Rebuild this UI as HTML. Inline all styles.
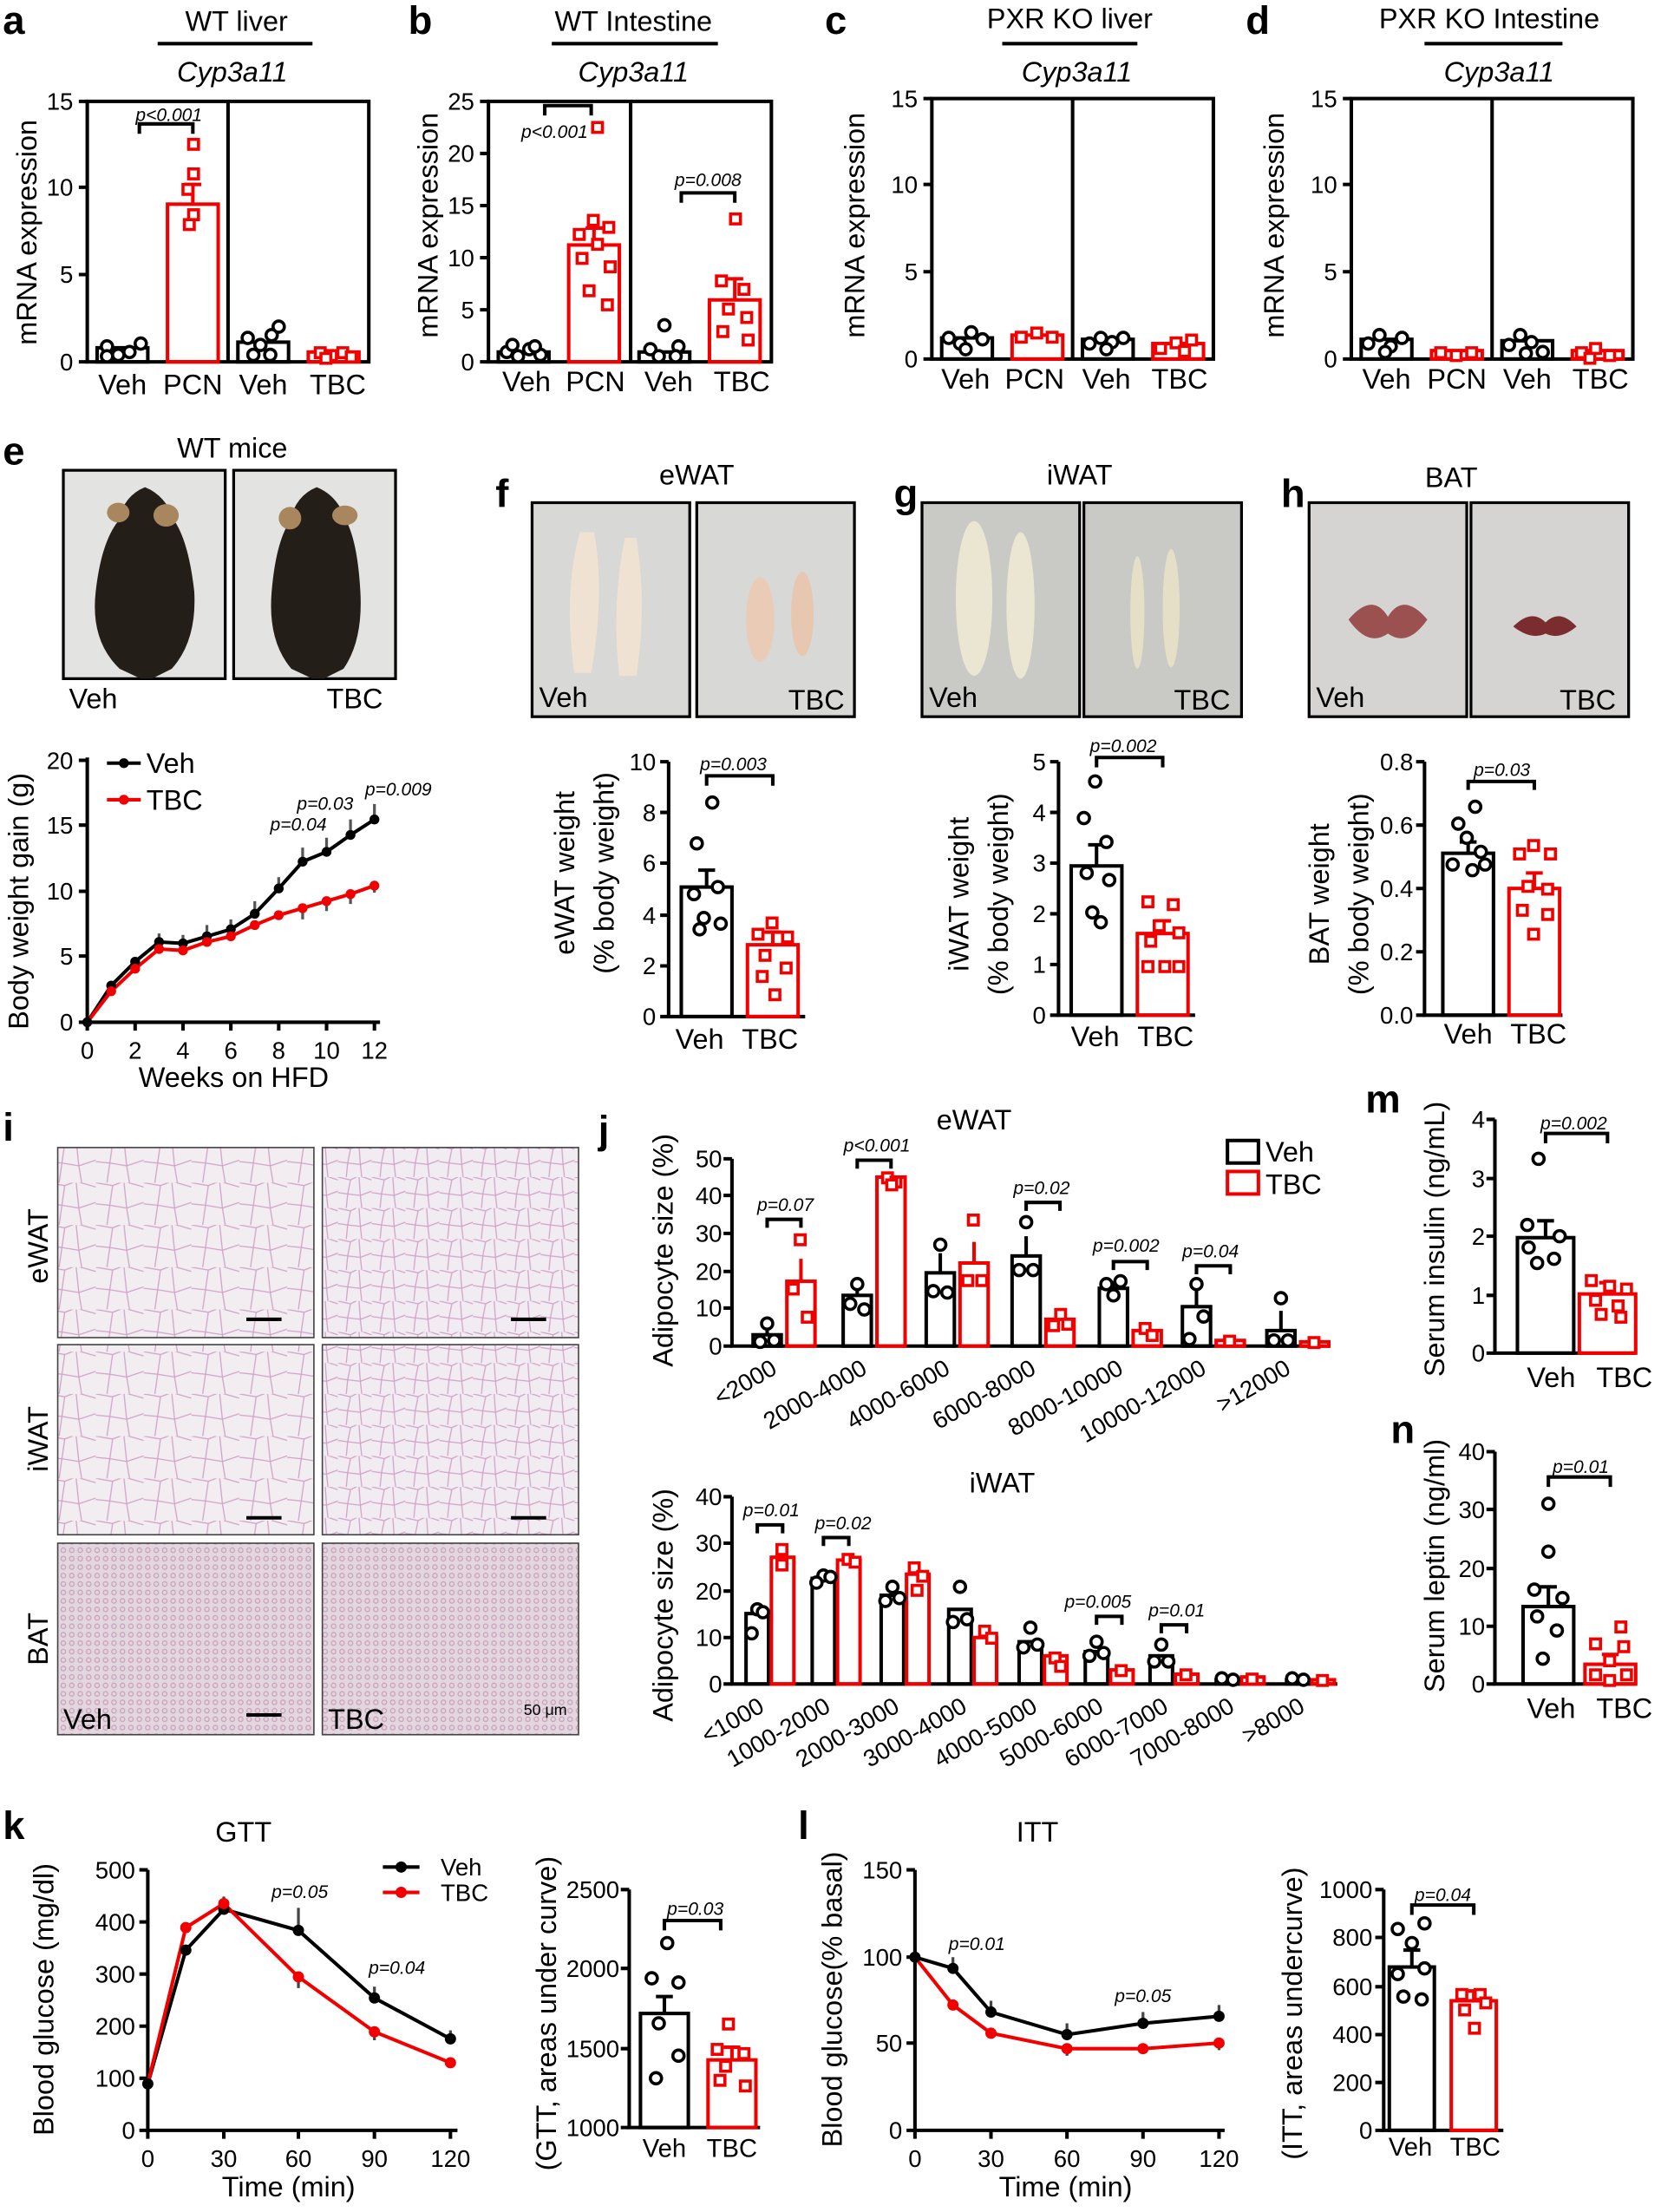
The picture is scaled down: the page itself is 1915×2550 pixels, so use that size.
<!DOCTYPE html>
<html><head><meta charset="utf-8"><style>
html,body{margin:0;padding:0;background:#fff}
svg{display:block}
text{font-family:"Liberation Sans",Arial,sans-serif;fill:#000}
.t{font-size:17px}
.l{font-size:20px}
.p{font-size:13px;font-style:italic}
.L{font-size:28px;font-weight:bold}
.ax{stroke:#000;stroke-width:2.5;fill:none}
.bk{stroke:#000;stroke-width:2.5;fill:none}
.rd{stroke:#f20000;stroke-width:2.5;fill:none}
.oc{stroke:#000;stroke-width:2.2;fill:#fff}
.or{stroke:#f20000;stroke-width:2.2;fill:#fff}
</style></head><body>
<svg width="1915" height="2550" viewBox="0 0 1180 1571" preserveAspectRatio="none" xmlns="http://www.w3.org/2000/svg">
<defs>
<pattern id="ad" width="34" height="30" patternUnits="userSpaceOnUse">
<rect width="34" height="30" fill="#f1edf1"/>
<path d="M0 0 L12 2 L20 -1 L34 3 M12 2 L10 16 L0 15 M10 16 L22 18 L20 -1 M22 18 L34 14 M10 16 L8 30 M22 18 L24 30" stroke="#d2a3c8" stroke-width="0.8" fill="none"/>
</pattern>
<pattern id="ad2" width="24" height="22" patternUnits="userSpaceOnUse">
<rect width="24" height="22" fill="#f1ecf1"/>
<path d="M0 0 L9 2 L15 -1 L24 2 M9 2 L7 12 L0 11 M7 12 L16 13 L15 -1 M16 13 L24 10 M7 12 L6 22 M16 13 L17 22" stroke="#d2a3c8" stroke-width="0.8" fill="none"/>
</pattern>
<pattern id="bat" width="6" height="6" patternUnits="userSpaceOnUse">
<rect width="6" height="6" fill="#e3d6de"/>
<circle cx="3" cy="3" r="1.6" fill="none" stroke="#c7a2bb" stroke-width="0.8"/>
</pattern>
</defs>

<!-- ============ a ============ -->
<text x="2" y="24" class="L">a</text>
<text x="168" y="22" class="l" text-anchor="middle">WT liver</text>
<line x1="112" y1="31" x2="222" y2="31" class="ax" stroke-width="2"/>
<text x="165" y="58" class="l" text-anchor="middle" font-style="italic">Cyp3a11</text>
<text transform="translate(26,165) rotate(-90)" class="l" text-anchor="middle">mRNA expression</text>
<g class="t" text-anchor="end"><text x="52" y="263">0</text><text x="52" y="201">5</text><text x="52" y="139">10</text><text x="52" y="78">15</text></g>
<path d="M56 257H62M56 195H62M56 133H62M56 72H62" class="ax"/>
<rect x="62" y="72" width="200" height="185" class="ax"/>
<line x1="162" y1="72" x2="162" y2="257" class="ax"/>
<rect x="69" y="247" width="36" height="10" class="bk"/>
<rect x="119" y="145" width="36" height="112" class="rd"/>
<path d="M137 145V131M131 131H143" class="rd"/>
<rect x="169" y="243" width="36" height="14" class="bk"/>
<rect x="219" y="250" width="36" height="7" class="rd"/>
<g class="oc"><circle cx="76" cy="246" r="4"/><circle cx="84" cy="252" r="4"/><circle cx="92" cy="250" r="4"/><circle cx="100" cy="244" r="4"/><circle cx="76" cy="253" r="4"/>
<circle cx="176" cy="240" r="4"/><circle cx="185" cy="245" r="4"/><circle cx="193" cy="238" r="4"/><circle cx="198" cy="232" r="4"/><circle cx="180" cy="252" r="4"/><circle cx="192" cy="252" r="4"/></g>
<g class="or"><rect x="134" y="99" width="7" height="7"/><rect x="134" y="120" width="7" height="7"/><rect x="130" y="131" width="7" height="7"/><rect x="134" y="149" width="7" height="7"/><rect x="131" y="156" width="7" height="7"/>
<rect x="224" y="247" width="7" height="7"/><rect x="232" y="249" width="7" height="7"/><rect x="240" y="247" width="7" height="7"/><rect x="246" y="250" width="7" height="7"/><rect x="228" y="251" width="7" height="7"/></g>
<text x="120" y="86" class="p" text-anchor="middle">p&lt;0.001</text>
<path d="M99 95V88H137V95" class="ax" stroke-width="1.5"/>
<g class="l" text-anchor="middle"><text x="87" y="280">Veh</text><text x="137" y="280">PCN</text><text x="187" y="280">Veh</text><text x="240" y="280">TBC</text></g>

<!-- ============ b ============ -->
<text x="290" y="24" class="L">b</text>
<text x="450" y="22" class="l" text-anchor="middle">WT Intestine</text>
<line x1="392" y1="31" x2="510" y2="31" class="ax" stroke-width="2"/>
<text x="450" y="58" class="l" text-anchor="middle" font-style="italic">Cyp3a11</text>
<text transform="translate(311,160) rotate(-90)" class="l" text-anchor="middle">mRNA expression</text>
<g class="t" text-anchor="end"><text x="337" y="263">0</text><text x="337" y="226">5</text><text x="337" y="189">10</text><text x="337" y="152">15</text><text x="337" y="115">20</text><text x="337" y="78">25</text></g>
<path d="M341 257H347M341 220H347M341 183H347M341 146H347M341 109H347M341 72H347" class="ax"/>
<rect x="347" y="72" width="201" height="185" class="ax"/>
<line x1="448" y1="72" x2="448" y2="257" class="ax"/>
<rect x="354" y="250" width="36" height="7" class="bk"/>
<rect x="404" y="174" width="36" height="83" class="rd"/>
<path d="M422 174V162M416 162H428" class="rd"/>
<rect x="454" y="250" width="36" height="7" class="bk"/>
<rect x="504" y="213" width="36" height="44" class="rd"/>
<path d="M522 213V198M516 198H528" class="rd"/>
<g class="oc"><circle cx="360" cy="250" r="4"/><circle cx="368" cy="253" r="4"/><circle cx="376" cy="248" r="4"/><circle cx="384" cy="252" r="4"/><circle cx="364" cy="245" r="4"/><circle cx="380" cy="246" r="4"/>
<circle cx="472" cy="231" r="4"/><circle cx="462" cy="248" r="4"/><circle cx="482" cy="246" r="4"/><circle cx="468" cy="253" r="4"/><circle cx="480" cy="253" r="4"/></g>
<g class="or"><rect x="421" y="87" width="7" height="7"/><rect x="418" y="153" width="7" height="7"/><rect x="429" y="158" width="7" height="7"/><rect x="408" y="163" width="7" height="7"/><rect x="421" y="170" width="7" height="7"/><rect x="410" y="180" width="7" height="7"/><rect x="430" y="186" width="7" height="7"/><rect x="415" y="203" width="7" height="7"/><rect x="428" y="213" width="7" height="7"/>
<rect x="519" y="152" width="7" height="7"/><rect x="509" y="196" width="7" height="7"/><rect x="525" y="202" width="7" height="7"/><rect x="514" y="216" width="7" height="7"/><rect x="527" y="222" width="7" height="7"/><rect x="510" y="232" width="7" height="7"/><rect x="528" y="238" width="7" height="7"/></g>
<text x="394" y="98" class="p" text-anchor="middle">p&lt;0.001</text>
<path d="M387 82V75H420V82" class="ax" stroke-width="1.5"/>
<text x="503" y="132" class="p" text-anchor="middle">p=0.008</text>
<path d="M484 144V137H522V144" class="ax" stroke-width="1.5"/>
<g class="l" text-anchor="middle"><text x="374" y="278">Veh</text><text x="423" y="278">PCN</text><text x="475" y="278">Veh</text><text x="527" y="278">TBC</text></g>

<!-- ============ c ============ -->
<text x="586" y="24" class="L">c</text>
<text x="760" y="20" class="l" text-anchor="middle">PXR KO liver</text>
<line x1="712" y1="31" x2="808" y2="31" class="ax" stroke-width="2"/>
<text x="765" y="58" class="l" text-anchor="middle" font-style="italic">Cyp3a11</text>
<text transform="translate(614,160) rotate(-90)" class="l" text-anchor="middle">mRNA expression</text>
<g class="t" text-anchor="end"><text x="652" y="261">0</text><text x="652" y="199">5</text><text x="652" y="137">10</text><text x="652" y="76">15</text></g>
<path d="M656 255H662M656 193H662M656 131H662M656 70H662" class="ax"/>
<rect x="662" y="70" width="200" height="185" class="ax"/>
<line x1="762" y1="70" x2="762" y2="255" class="ax"/>
<rect x="669" y="240" width="36" height="15" class="bk"/>
<rect x="719" y="238" width="36" height="17" class="rd"/>
<rect x="769" y="241" width="36" height="14" class="bk"/>
<rect x="819" y="244" width="36" height="11" class="rd"/>
<g class="oc"><circle cx="674" cy="240" r="4"/><circle cx="682" cy="244" r="4"/><circle cx="690" cy="236" r="4"/><circle cx="698" cy="241" r="4"/><circle cx="686" cy="248" r="4"/>
<circle cx="774" cy="244" r="4"/><circle cx="782" cy="240" r="4"/><circle cx="790" cy="243" r="4"/><circle cx="798" cy="240" r="4"/><circle cx="786" cy="248" r="4"/></g>
<g class="or"><rect x="722" y="236" width="7" height="7"/><rect x="733" y="233" width="7" height="7"/><rect x="744" y="236" width="7" height="7"/>
<rect x="821" y="244" width="7" height="7"/><rect x="832" y="240" width="7" height="7"/><rect x="843" y="238" width="7" height="7"/><rect x="838" y="246" width="7" height="7"/></g>
<g class="l" text-anchor="middle"><text x="686" y="276">Veh</text><text x="735" y="276">PCN</text><text x="786" y="276">Veh</text><text x="838" y="276">TBC</text></g>

<!-- ============ d ============ -->
<text x="885" y="24" class="L">d</text>
<text x="1058" y="20" class="l" text-anchor="middle">PXR KO Intestine</text>
<line x1="1012" y1="31" x2="1110" y2="31" class="ax" stroke-width="2"/>
<text x="1065" y="58" class="l" text-anchor="middle" font-style="italic">Cyp3a11</text>
<text transform="translate(912,160) rotate(-90)" class="l" text-anchor="middle">mRNA expression</text>
<g class="t" text-anchor="end"><text x="950" y="261">0</text><text x="950" y="199">5</text><text x="950" y="137">10</text><text x="950" y="76">15</text></g>
<path d="M954 255H960M954 193H960M954 131H960M954 70H960" class="ax"/>
<rect x="960" y="70" width="200" height="185" class="ax"/>
<line x1="1060" y1="70" x2="1060" y2="255" class="ax"/>
<rect x="967" y="241" width="36" height="14" class="bk"/>
<rect x="1017" y="249" width="36" height="6" class="rd"/>
<rect x="1067" y="242" width="36" height="13" class="bk"/>
<rect x="1117" y="249" width="36" height="6" class="rd"/>
<g class="oc"><circle cx="972" cy="244" r="4"/><circle cx="980" cy="238" r="4"/><circle cx="988" cy="246" r="4"/><circle cx="996" cy="240" r="4"/><circle cx="984" cy="250" r="4"/>
<circle cx="1072" cy="245" r="4"/><circle cx="1080" cy="238" r="4"/><circle cx="1088" cy="243" r="4"/><circle cx="1096" cy="250" r="4"/><circle cx="1084" cy="251" r="4"/></g>
<g class="or"><rect x="1020" y="247" width="7" height="7"/><rect x="1031" y="249" width="7" height="7"/><rect x="1042" y="247" width="7" height="7"/>
<rect x="1120" y="247" width="7" height="7"/><rect x="1130" y="244" width="7" height="7"/><rect x="1140" y="249" width="7" height="7"/><rect x="1126" y="251" width="7" height="7"/></g>
<g class="l" text-anchor="middle"><text x="985" y="276">Veh</text><text x="1035" y="276">PCN</text><text x="1085" y="276">Veh</text><text x="1137" y="276">TBC</text></g>

<!-- ============ e ============ -->
<text x="2" y="330" class="L">e</text>
<text x="165" y="325" class="l" text-anchor="middle">WT mice</text>
<rect x="45" y="334" width="115" height="148" fill="#e3e3e1" stroke="#000" stroke-width="2"/>
<rect x="166" y="334" width="115" height="148" fill="#e3e3e1" stroke="#000" stroke-width="2"/>
<path d="M103 346 Q88 352 84 370 Q72 385 68 420 Q64 455 85 475 L100 482 L108 482 L122 475 Q140 455 138 420 Q134 385 124 370 Q118 352 103 346Z" fill="#241e19"/>
<ellipse cx="84" cy="364" rx="8" ry="7" fill="#a8875f"/><ellipse cx="118" cy="366" rx="9" ry="8" fill="#a8875f"/>
<path d="M225 346 Q210 352 206 370 Q196 385 193 420 Q190 455 207 475 L222 482 L230 482 L244 475 Q258 455 256 420 Q254 385 246 370 Q240 352 225 346Z" fill="#241e19"/>
<ellipse cx="206" cy="368" rx="8" ry="8" fill="#a8875f"/><ellipse cx="245" cy="366" rx="9" ry="7" fill="#a8875f"/>
<text x="49" y="503" class="l" fill="#000">Veh</text><text x="232" y="503" class="l">TBC</text>
<g>
<text transform="translate(20,640) rotate(-90)" class="l" text-anchor="middle">Body weight gain (g)</text>
<g class="t" text-anchor="end"><text x="52" y="732">0</text><text x="52" y="685">5</text><text x="52" y="639">10</text><text x="52" y="592">15</text><text x="52" y="546">20</text></g>
<path d="M56 726H62M56 679H62M56 633H62M56 586H62M56 540H62" class="ax"/>
<path d="M62 538V726H270" class="ax"/>
<path d="M62 726v6M96 726v6M130 726v6M164 726v6M198 726v6M232 726v6M266 726v6" class="ax"/>
<g class="t" text-anchor="middle"><text x="62" y="752">0</text><text x="96" y="752">2</text><text x="130" y="752">4</text><text x="164" y="752">6</text><text x="198" y="752">8</text><text x="232" y="752">10</text><text x="266" y="752">12</text></g>
<text x="166" y="772" class="l" text-anchor="middle">Weeks on HFD</text>
<polyline points="62,726 79,700 96,683 113,669 130,670 147,665 164,660 181,649 198,631 215,612 232,605 249,593 266,582" fill="none" stroke="#000" stroke-width="2.5"/>
<polyline points="62,726 79,704 96,688 113,674 130,675 147,669 164,665 181,657 198,650 215,645 232,640 249,635 266,629" fill="none" stroke="#f20000" stroke-width="2.5"/>
<path d="M113 669v-6M130 670v-6M147 665v-8M164 660v-7M181 649v-9M198 631v-8M215 612v-10M232 605v-10M249 593v-11M266 582v-11M215 645v8M232 640v7M249 635v7M266 629v5" stroke="#555" stroke-width="2"/>
<g fill="#000"><circle cx="62" cy="726" r="3.5"/><circle cx="79" cy="700" r="3.5"/><circle cx="96" cy="683" r="3.5"/><circle cx="113" cy="669" r="3.5"/><circle cx="130" cy="670" r="3.5"/><circle cx="147" cy="665" r="3.5"/><circle cx="164" cy="660" r="3.5"/><circle cx="181" cy="649" r="3.5"/><circle cx="198" cy="631" r="3.5"/><circle cx="215" cy="612" r="3.5"/><circle cx="232" cy="605" r="3.5"/><circle cx="249" cy="593" r="3.5"/><circle cx="266" cy="582" r="3.5"/></g>
<g fill="#f20000"><circle cx="79" cy="704" r="3.5"/><circle cx="96" cy="688" r="3.5"/><circle cx="113" cy="674" r="3.5"/><circle cx="130" cy="675" r="3.5"/><circle cx="147" cy="669" r="3.5"/><circle cx="164" cy="665" r="3.5"/><circle cx="181" cy="657" r="3.5"/><circle cx="198" cy="650" r="3.5"/><circle cx="215" cy="645" r="3.5"/><circle cx="232" cy="640" r="3.5"/><circle cx="249" cy="635" r="3.5"/><circle cx="266" cy="629" r="3.5"/></g>
<line x1="76" y1="542" x2="100" y2="542" stroke="#000" stroke-width="2.5"/><circle cx="88" cy="542" r="3.5"/>
<text x="104" y="549" class="l">Veh</text>
<line x1="76" y1="568" x2="100" y2="568" stroke="#f20000" stroke-width="2.5"/><circle cx="88" cy="568" r="3.5" fill="#f20000"/>
<text x="104" y="575" class="l">TBC</text>
<text x="212" y="590" class="p" text-anchor="middle">p=0.04</text>
<text x="231" y="575" class="p" text-anchor="middle">p=0.03</text>
<text x="283" y="565" class="p" text-anchor="middle">p=0.009</text>
</g>

<!-- ============ f g h photos ============ -->
<text x="352" y="360" class="L">f</text>
<text x="495" y="344" class="l" text-anchor="middle">eWAT</text>
<rect x="378" y="357" width="112" height="152" fill="#d8d8d6" stroke="#000" stroke-width="2"/>
<rect x="495" y="357" width="112" height="152" fill="#d8d8d6" stroke="#000" stroke-width="2"/>
<path d="M412 378 Q400 420 408 478 L420 478 Q430 420 422 378Z" fill="#efe2d2"/><path d="M444 382 Q434 430 440 480 L452 480 Q460 430 452 382Z" fill="#efe2d2"/>
<ellipse cx="540" cy="440" rx="10" ry="30" fill="#e9cbb6"/><ellipse cx="570" cy="436" rx="8" ry="30" fill="#e8c7b0"/>
<text x="383" y="502" class="l">Veh</text><text x="560" y="504" class="l">TBC</text>

<text x="635" y="360" class="L">g</text>
<text x="767" y="344" class="l" text-anchor="middle">iWAT</text>
<rect x="655" y="357" width="112" height="152" fill="#c9c9c5" stroke="#000" stroke-width="2"/>
<rect x="770" y="357" width="112" height="152" fill="#c9c9c5" stroke="#000" stroke-width="2"/>
<ellipse cx="692" cy="425" rx="13" ry="55" fill="#ebe6d2"/><ellipse cx="725" cy="430" rx="10" ry="52" fill="#ebe6d2"/>
<ellipse cx="808" cy="435" rx="5" ry="40" fill="#e6dfc8"/><ellipse cx="832" cy="432" rx="6" ry="42" fill="#e6dfc8"/>
<text x="660" y="502" class="l">Veh</text><text x="834" y="504" class="l">TBC</text>

<text x="910" y="360" class="L">h</text>
<text x="1031" y="346" class="l" text-anchor="middle">BAT</text>
<rect x="930" y="357" width="112" height="152" fill="#d5d4d2" stroke="#000" stroke-width="2"/>
<rect x="1045" y="357" width="112" height="152" fill="#d5d4d2" stroke="#000" stroke-width="2"/>
<path d="M958 440 Q975 420 986 438 Q997 420 1014 440 Q1000 460 986 450 Q972 460 958 440Z" fill="#9a5150"/>
<path d="M1075 445 Q1088 432 1098 442 Q1108 432 1120 445 Q1108 455 1098 450 Q1088 455 1075 445Z" fill="#7b2c2f"/>
<text x="935" y="502" class="l">Veh</text><text x="1108" y="504" class="l">TBC</text>

<!-- f chart -->
<text transform="translate(408,620) rotate(-90)" class="l" text-anchor="middle">eWAT weight</text>
<text transform="translate(436,620) rotate(-90)" class="l" text-anchor="middle">(% body weight)</text>
<g class="t" text-anchor="end"><text x="466" y="728">0</text><text x="466" y="692">2</text><text x="466" y="656">4</text><text x="466" y="619">6</text><text x="466" y="583">8</text><text x="466" y="547">10</text></g>
<path d="M469 722H475M469 686H475M469 650H475M469 613H475M469 577H475M469 541H475" class="ax"/>
<path d="M475 541V722H572" class="ax"/>
<rect x="484" y="630" width="36" height="92" class="bk"/><path d="M502 630V618M496 618H508" class="bk"/>
<rect x="531" y="671" width="36" height="51" class="rd"/><path d="M549 671V662M543 662H555" class="rd"/>
<g class="oc"><circle cx="506" cy="570" r="4"/><circle cx="495" cy="599" r="4"/><circle cx="510" cy="630" r="4"/><circle cx="493" cy="635" r="4"/><circle cx="500" cy="652" r="4"/><circle cx="512" cy="656" r="4"/><circle cx="497" cy="660" r="4"/></g>
<g class="or"><rect x="545" y="652" width="7" height="7"/><rect x="535" y="660" width="7" height="7"/><rect x="556" y="662" width="7" height="7"/><rect x="540" y="675" width="7" height="7"/><rect x="555" y="684" width="7" height="7"/><rect x="538" y="690" width="7" height="7"/><rect x="547" y="703" width="7" height="7"/></g>
<text x="521" y="547" class="p" text-anchor="middle">p=0.003</text>
<path d="M502 558V551H549V558" class="ax" stroke-width="1.5"/>
<g class="l" text-anchor="middle"><text x="497" y="745">Veh</text><text x="547" y="745">TBC</text></g>

<!-- g chart -->
<text transform="translate(688,635) rotate(-90)" class="l" text-anchor="middle">iWAT weight</text>
<text transform="translate(716,635) rotate(-90)" class="l" text-anchor="middle">(% body weight)</text>
<g class="t" text-anchor="end"><text x="743" y="727">0</text><text x="743" y="691">1</text><text x="743" y="655">2</text><text x="743" y="619">3</text><text x="743" y="583">4</text><text x="743" y="547">5</text></g>
<path d="M746 721H752M746 685H752M746 649H752M746 613H752M746 577H752M746 541H752" class="ax"/>
<path d="M752 541V721H849" class="ax"/>
<rect x="761" y="615" width="36" height="106" class="bk"/><path d="M779 615V600M773 600H785" class="bk"/>
<rect x="808" y="663" width="36" height="58" class="rd"/><path d="M826 663V654M820 654H832" class="rd"/>
<g class="oc"><circle cx="778" cy="555" r="4"/><circle cx="770" cy="581" r="4"/><circle cx="786" cy="598" r="4"/><circle cx="772" cy="620" r="4"/><circle cx="788" cy="625" r="4"/><circle cx="776" cy="648" r="4"/><circle cx="782" cy="655" r="4"/></g>
<g class="or"><rect x="812" y="637" width="7" height="7"/><rect x="830" y="639" width="7" height="7"/><rect x="820" y="654" width="7" height="7"/><rect x="834" y="659" width="7" height="7"/><rect x="814" y="665" width="7" height="7"/><rect x="824" y="683" width="7" height="7"/><rect x="834" y="683" width="7" height="7"/><rect x="812" y="683" width="7" height="7"/></g>
<text x="798" y="534" class="p" text-anchor="middle">p=0.002</text>
<path d="M779 545V538H826V545" class="ax" stroke-width="1.5"/>
<g class="l" text-anchor="middle"><text x="778" y="743">Veh</text><text x="828" y="743">TBC</text></g>

<!-- h chart -->
<text transform="translate(944,635) rotate(-90)" class="l" text-anchor="middle">BAT weight</text>
<text transform="translate(972,635) rotate(-90)" class="l" text-anchor="middle">(% body weight)</text>
<g class="t" text-anchor="end"><text x="1004" y="727">0.0</text><text x="1004" y="682">0.2</text><text x="1004" y="637">0.4</text><text x="1004" y="592">0.6</text><text x="1004" y="547">0.8</text></g>
<path d="M1006 721H1012M1006 676H1012M1006 631H1012M1006 586H1012M1006 541H1012" class="ax"/>
<path d="M1012 541V721H1110" class="ax"/>
<rect x="1025" y="606" width="36" height="115" class="bk"/><path d="M1043 606V598M1037 598H1049" class="bk"/>
<rect x="1072" y="631" width="36" height="90" class="rd"/><path d="M1090 631V620M1084 620H1096" class="rd"/>
<g class="oc"><circle cx="1048" cy="573" r="4"/><circle cx="1036" cy="585" r="4"/><circle cx="1042" cy="595" r="4"/><circle cx="1052" cy="605" r="4"/><circle cx="1032" cy="614" r="4"/><circle cx="1046" cy="618" r="4"/><circle cx="1055" cy="614" r="4"/></g>
<g class="or"><rect x="1086" y="597" width="7" height="7"/><rect x="1076" y="603" width="7" height="7"/><rect x="1098" y="603" width="7" height="7"/><rect x="1082" y="626" width="7" height="7"/><rect x="1096" y="628" width="7" height="7"/><rect x="1078" y="643" width="7" height="7"/><rect x="1096" y="646" width="7" height="7"/><rect x="1086" y="660" width="7" height="7"/></g>
<text x="1067" y="551" class="p" text-anchor="middle">p=0.03</text>
<path d="M1043 561V555H1090V561" class="ax" stroke-width="1.5"/>
<g class="l" text-anchor="middle"><text x="1043" y="741">Veh</text><text x="1093" y="741">TBC</text></g>

<!-- ============ i ============ -->
<text x="2" y="810" class="L">i</text>
<rect x="41" y="815" width="182" height="135" fill="url(#ad)" stroke="#444" stroke-width="1"/>
<rect x="229" y="815" width="182" height="135" fill="url(#ad2)" stroke="#444" stroke-width="1"/>
<rect x="41" y="955" width="182" height="135" fill="url(#ad)" stroke="#444" stroke-width="1"/>
<rect x="229" y="955" width="182" height="135" fill="url(#ad2)" stroke="#444" stroke-width="1"/>
<rect x="41" y="1096" width="182" height="136" fill="url(#bat)" stroke="#444" stroke-width="1"/>
<rect x="229" y="1096" width="182" height="136" fill="url(#bat)" stroke="#444" stroke-width="1"/>
<path d="M175 937H200M363 937H388M175 1078H200M363 1078H388M175 1218H200" stroke="#000" stroke-width="2.5"/>
<text x="372" y="1218" font-size="11">50 μm</text>
<text transform="translate(34,885) rotate(-90)" class="l" text-anchor="middle">eWAT</text>
<text transform="translate(34,1022) rotate(-90)" class="l" text-anchor="middle">iWAT</text>
<text transform="translate(34,1164) rotate(-90)" class="l" text-anchor="middle">BAT</text>
<text x="45" y="1228" class="l">Veh</text><text x="233" y="1228" class="l">TBC</text>

<!-- ============ j top ============ -->
<text x="425" y="812" class="L">j</text>
<text x="692" y="802" class="l" text-anchor="middle">eWAT</text>
<text transform="translate(478,888) rotate(-90)" class="l" text-anchor="middle">Adipocyte size (%)</text>
<g class="t" text-anchor="end"><text x="513" y="962">0</text><text x="513" y="935">10</text><text x="513" y="909">20</text><text x="513" y="882">30</text><text x="513" y="855">40</text><text x="513" y="829">50</text></g>
<path d="M514 956H520M514 929H520M514 903H520M514 876H520M514 849H520M514 823H520" class="ax"/>
<path d="M520 823V956H945" class="ax"/>
<g class="bk">
<rect x="535" y="948" width="20" height="8"/><rect x="599" y="920" width="20" height="36"/><rect x="658" y="904" width="20" height="52"/><rect x="719" y="892" width="20" height="64"/><rect x="781" y="915" width="20" height="41"/><rect x="840" y="928" width="20" height="28"/><rect x="900" y="945" width="20" height="11"/>
</g>
<path d="M545 948v-8M609 920v-7M668 904v-14M729 892v-14M791 915v-5M850 928v-13M910 945v-14" class="bk"/>
<g class="rd">
<rect x="559" y="910" width="20" height="46"/><rect x="623" y="836" width="20" height="120"/><rect x="682" y="897" width="20" height="59"/><rect x="743" y="937" width="20" height="19"/><rect x="805" y="945" width="20" height="11"/><rect x="864" y="952" width="20" height="4"/><rect x="924" y="953" width="20" height="3"/>
</g>
<path d="M569 910v-16M692 897v-15" class="rd"/>
<g class="oc"><circle cx="540" cy="953" r="4"/><circle cx="545" cy="940" r="4"/><circle cx="550" cy="952" r="4"/><circle cx="604" cy="926" r="4"/><circle cx="609" cy="912" r="4"/><circle cx="614" cy="930" r="4"/><circle cx="663" cy="917" r="4"/><circle cx="668" cy="884" r="4"/><circle cx="673" cy="918" r="4"/><circle cx="724" cy="902" r="4"/><circle cx="729" cy="868" r="4"/><circle cx="734" cy="902" r="4"/><circle cx="786" cy="912" r="4"/><circle cx="791" cy="920" r="4"/><circle cx="796" cy="910" r="4"/><circle cx="850" cy="912" r="4"/><circle cx="845" cy="951" r="4"/><circle cx="855" cy="935" r="4"/><circle cx="910" cy="922" r="4"/><circle cx="905" cy="952" r="4"/><circle cx="915" cy="952" r="4"/></g>
<g class="or"><rect x="565" y="877" width="7" height="7"/><rect x="560" y="912" width="7" height="7"/><rect x="570" y="932" width="7" height="7"/><rect x="627" y="833" width="7" height="7"/><rect x="633" y="836" width="7" height="7"/><rect x="630" y="838" width="7" height="7"/><rect x="688" y="863" width="7" height="7"/><rect x="684" y="906" width="7" height="7"/><rect x="694" y="906" width="7" height="7"/><rect x="750" y="930" width="7" height="7"/><rect x="745" y="938" width="7" height="7"/><rect x="755" y="937" width="7" height="7"/><rect x="810" y="940" width="7" height="7"/><rect x="815" y="945" width="7" height="7"/><rect x="870" y="949" width="7" height="7"/><rect x="930" y="950" width="7" height="7"/></g>
<g class="p" text-anchor="middle"><text x="558" y="860">p=0.07</text><text x="623" y="818">p&lt;0.001</text><text x="740" y="848">p=0.02</text><text x="800" y="889">p=0.002</text><text x="860" y="893">p=0.04</text></g>
<path d="M545 872V866H569V872M609 830V824H633V830M729 860V854H753V860M791 902V896H815V902M850 905V899H874V905" class="ax" stroke-width="1.5"/>
<rect x="872" y="810" width="22" height="16" class="bk"/><text x="899" y="825" class="l">Veh</text>
<rect x="872" y="832" width="22" height="16" class="rd"/><text x="899" y="848" class="l">TBC</text>
<g class="t" text-anchor="end">
<text transform="translate(553,975) rotate(-30)">&lt;2000</text>
<text transform="translate(617,975) rotate(-30)">2000-4000</text>
<text transform="translate(676,975) rotate(-30)">4000-6000</text>
<text transform="translate(737,975) rotate(-30)">6000-8000</text>
<text transform="translate(799,975) rotate(-30)">8000-10000</text>
<text transform="translate(858,975) rotate(-30)">10000-12000</text>
<text transform="translate(918,975) rotate(-30)">&gt;12000</text>
</g>

<!-- ============ j bottom ============ -->
<text x="712" y="1060" class="l" text-anchor="middle">iWAT</text>
<text transform="translate(478,1140) rotate(-90)" class="l" text-anchor="middle">Adipocyte size (%)</text>
<g class="t" text-anchor="end"><text x="513" y="1202">0</text><text x="513" y="1169">10</text><text x="513" y="1136">20</text><text x="513" y="1102">30</text><text x="513" y="1069">40</text></g>
<path d="M514 1196H520M514 1163H520M514 1130H520M514 1096H520M514 1063H520" class="ax"/>
<path d="M520 1063V1196H950" class="ax"/>
<g class="bk">
<rect x="530" y="1146" width="16" height="50"/><rect x="577" y="1121" width="16" height="75"/><rect x="626" y="1133" width="16" height="63"/><rect x="674" y="1143" width="16" height="53"/><rect x="724" y="1166" width="16" height="30"/><rect x="771" y="1173" width="16" height="23"/><rect x="817" y="1176" width="16" height="20"/><rect x="864" y="1193" width="16" height="3"/><rect x="914" y="1193" width="16" height="3"/>
</g>
<g class="rd">
<rect x="548" y="1106" width="16" height="90"/><rect x="595" y="1108" width="16" height="88"/><rect x="644" y="1118" width="16" height="78"/><rect x="692" y="1163" width="16" height="33"/><rect x="742" y="1176" width="16" height="20"/><rect x="789" y="1186" width="16" height="10"/><rect x="835" y="1189" width="16" height="7"/><rect x="882" y="1191" width="16" height="5"/><rect x="932" y="1193" width="16" height="3"/>
</g>
<g class="oc"><circle cx="538" cy="1143" r="4"/><circle cx="534" cy="1160" r="4"/><circle cx="542" cy="1145" r="4"/><circle cx="585" cy="1119" r="4"/><circle cx="580" cy="1124" r="4"/><circle cx="590" cy="1120" r="4"/><circle cx="634" cy="1127" r="4"/><circle cx="629" cy="1137" r="4"/><circle cx="639" cy="1135" r="4"/><circle cx="682" cy="1127" r="4"/><circle cx="677" cy="1152" r="4"/><circle cx="687" cy="1150" r="4"/><circle cx="732" cy="1156" r="4"/><circle cx="727" cy="1170" r="4"/><circle cx="737" cy="1168" r="4"/><circle cx="779" cy="1166" r="4"/><circle cx="774" cy="1176" r="4"/><circle cx="784" cy="1174" r="4"/><circle cx="825" cy="1168" r="4"/><circle cx="820" cy="1180" r="4"/><circle cx="830" cy="1180" r="4"/><circle cx="868" cy="1192" r="4"/><circle cx="876" cy="1193" r="4"/><circle cx="918" cy="1192" r="4"/><circle cx="926" cy="1193" r="4"/></g>
<g class="or"><rect x="552" y="1097" width="7" height="7"/><rect x="552" y="1108" width="7" height="7"/><rect x="599" y="1104" width="7" height="7"/><rect x="604" y="1106" width="7" height="7"/><rect x="646" y="1110" width="7" height="7"/><rect x="652" y="1116" width="7" height="7"/><rect x="648" y="1126" width="7" height="7"/><rect x="696" y="1155" width="7" height="7"/><rect x="701" y="1160" width="7" height="7"/><rect x="746" y="1174" width="7" height="7"/><rect x="750" y="1180" width="7" height="7"/><rect x="793" y="1183" width="7" height="7"/><rect x="839" y="1186" width="7" height="7"/><rect x="886" y="1189" width="7" height="7"/><rect x="936" y="1190" width="7" height="7"/></g>
<g class="p" text-anchor="middle"><text x="548" y="1077">p=0.01</text><text x="599" y="1086">p=0.02</text><text x="780" y="1142">p=0.005</text><text x="836" y="1148">p=0.01</text></g>
<path d="M538 1089V1083H556V1089M585 1098V1092H603V1098M779 1154V1148H797V1154M825 1160V1154H843V1160" class="ax" stroke-width="1.5"/>
<g class="t" text-anchor="end">
<text transform="translate(544,1215) rotate(-30)">&lt;1000</text>
<text transform="translate(591,1215) rotate(-30)">1000-2000</text>
<text transform="translate(640,1215) rotate(-30)">2000-3000</text>
<text transform="translate(688,1215) rotate(-30)">3000-4000</text>
<text transform="translate(738,1215) rotate(-30)">4000-5000</text>
<text transform="translate(785,1215) rotate(-30)">5000-6000</text>
<text transform="translate(831,1215) rotate(-30)">6000-7000</text>
<text transform="translate(878,1215) rotate(-30)">7000-8000</text>
<text transform="translate(928,1215) rotate(-30)">&gt;8000</text>
</g>

<!-- ============ m ============ -->
<text x="970" y="790" class="L">m</text>
<text transform="translate(1026,880) rotate(-90)" class="l" text-anchor="middle">Serum insulin (ng/mL)</text>
<g class="t" text-anchor="end"><text x="1055" y="967">0</text><text x="1055" y="926">1</text><text x="1055" y="884">2</text><text x="1055" y="843">3</text><text x="1055" y="801">4</text></g>
<path d="M1056 961H1062M1056 920H1062M1056 878H1062M1056 837H1062M1056 795H1062" class="ax"/>
<path d="M1062 795V961H1162" class="ax"/>
<rect x="1078" y="879" width="40" height="82" class="bk"/><path d="M1098 879V867M1092 867H1104" class="bk"/>
<rect x="1122" y="919" width="40" height="42" class="rd"/><path d="M1142 919V911M1136 911H1148" class="rd"/>
<g class="oc"><circle cx="1093" cy="823" r="4"/><circle cx="1085" cy="870" r="4"/><circle cx="1108" cy="878" r="4"/><circle cx="1086" cy="886" r="4"/><circle cx="1104" cy="894" r="4"/><circle cx="1092" cy="897" r="4"/></g>
<g class="or"><rect x="1127" y="906" width="7" height="7"/><rect x="1140" y="910" width="7" height="7"/><rect x="1152" y="912" width="7" height="7"/><rect x="1130" y="920" width="7" height="7"/><rect x="1146" y="924" width="7" height="7"/><rect x="1134" y="930" width="7" height="7"/><rect x="1148" y="932" width="7" height="7"/></g>
<text x="1118" y="802" class="p" text-anchor="middle">p=0.002</text>
<path d="M1098 812V805H1142V812" class="ax" stroke-width="1.5"/>
<g class="l" text-anchor="middle"><text x="1102" y="985">Veh</text><text x="1154" y="985">TBC</text></g>

<!-- ============ n ============ -->
<text x="988" y="1025" class="L">n</text>
<text transform="translate(1026,1112) rotate(-90)" class="l" text-anchor="middle">Serum leptin (ng/ml)</text>
<g class="t" text-anchor="end"><text x="1055" y="1202">0</text><text x="1055" y="1161">10</text><text x="1055" y="1120">20</text><text x="1055" y="1078">30</text><text x="1055" y="1037">40</text></g>
<path d="M1056 1196H1062M1056 1155H1062M1056 1114H1062M1056 1072H1062M1056 1031H1062" class="ax"/>
<path d="M1062 1031V1196H1162" class="ax"/>
<rect x="1082" y="1141" width="36" height="55" class="bk"/><path d="M1100 1141V1127M1094 1127H1106" class="bk"/>
<rect x="1126" y="1182" width="36" height="14" class="rd"/><path d="M1144 1182V1175M1138 1175H1150" class="rd"/>
<g class="oc"><circle cx="1100" cy="1068" r="4"/><circle cx="1100" cy="1102" r="4"/><circle cx="1090" cy="1129" r="4"/><circle cx="1110" cy="1135" r="4"/><circle cx="1092" cy="1148" r="4"/><circle cx="1106" cy="1158" r="4"/><circle cx="1096" cy="1178" r="4"/></g>
<g class="or"><rect x="1148" y="1152" width="7" height="7"/><rect x="1130" y="1164" width="7" height="7"/><rect x="1150" y="1166" width="7" height="7"/><rect x="1140" y="1176" width="7" height="7"/><rect x="1130" y="1186" width="7" height="7"/><rect x="1152" y="1186" width="7" height="7"/><rect x="1140" y="1190" width="7" height="7"/></g>
<text x="1123" y="1046" class="p" text-anchor="middle">p=0.01</text>
<path d="M1100 1056V1049H1144V1056" class="ax" stroke-width="1.5"/>
<g class="l" text-anchor="middle"><text x="1102" y="1220">Veh</text><text x="1154" y="1220">TBC</text></g>

<!-- ============ k ============ -->
<text x="2" y="1306" class="L">k</text>
<text x="173" y="1308" class="l" text-anchor="middle">GTT</text>
<text transform="translate(38,1420) rotate(-90)" class="l" text-anchor="middle">Blood glucose (mg/dl)</text>
<g class="t" text-anchor="end"><text x="96" y="1519">0</text><text x="96" y="1482">100</text><text x="96" y="1445">200</text><text x="96" y="1408">300</text><text x="96" y="1371">400</text><text x="96" y="1334">500</text></g>
<path d="M99 1513H105M99 1476H105M99 1439H105M99 1402H105M99 1365H105M99 1328H105" class="ax"/>
<path d="M105 1328V1513H325" class="ax"/>
<path d="M105 1513v6M159 1513v6M212 1513v6M266 1513v6M320 1513v6" class="ax"/>
<g class="t" text-anchor="middle"><text x="105" y="1539">0</text><text x="159" y="1539">30</text><text x="212" y="1539">60</text><text x="266" y="1539">90</text><text x="320" y="1539">120</text></g>
<text x="205" y="1560" class="l" text-anchor="middle">Time (min)</text>
<polyline points="105,1480 132,1385 159,1356 212,1371 266,1419 320,1448" fill="none" stroke="#000" stroke-width="2.5"/>
<polyline points="105,1480 132,1369 159,1352 212,1404 266,1443 320,1465" fill="none" stroke="#f20000" stroke-width="2.5"/>
<path d="M159 1356v-9M212 1371v-16M266 1419v-8M320 1448v-6M212 1404v8M266 1443v6" stroke="#444" stroke-width="2"/>
<g fill="#000"><circle cx="105" cy="1480" r="4"/><circle cx="132" cy="1385" r="4"/><circle cx="159" cy="1356" r="4"/><circle cx="212" cy="1371" r="4"/><circle cx="266" cy="1419" r="4"/><circle cx="320" cy="1448" r="4"/></g>
<g fill="#f20000"><circle cx="132" cy="1369" r="4"/><circle cx="159" cy="1352" r="4"/><circle cx="212" cy="1404" r="4"/><circle cx="266" cy="1443" r="4"/><circle cx="320" cy="1465" r="4"/></g>
<text x="213" y="1348" class="p" font-size="15" text-anchor="middle">p=0.05</text>
<text x="282" y="1402" class="p" font-size="15" text-anchor="middle">p=0.04</text>
<line x1="272" y1="1326" x2="298" y2="1326" stroke="#000" stroke-width="2.5"/><circle cx="285" cy="1326" r="4"/>
<text x="313" y="1332" class="t">Veh</text>
<line x1="272" y1="1344" x2="298" y2="1344" stroke="#f20000" stroke-width="2.5"/><circle cx="285" cy="1344" r="4" fill="#f20000"/>
<text x="313" y="1350" class="t">TBC</text>

<!-- k AUC -->
<text transform="translate(395,1430) rotate(-90)" class="l" text-anchor="middle">(GTT, areas under curve)</text>
<g class="t" text-anchor="end"><text x="440" y="1517">1000</text><text x="440" y="1461">1500</text><text x="440" y="1404">2000</text><text x="440" y="1348">2500</text></g>
<path d="M441 1511H447M441 1455H447M441 1398H447M441 1342H447" class="ax"/>
<path d="M447 1342V1511H540" class="ax"/>
<rect x="455" y="1430" width="34" height="81" class="bk"/><path d="M472 1430V1418M466 1418H478" class="bk"/>
<rect x="503" y="1463" width="34" height="48" class="rd"/><path d="M520 1463V1454M514 1454H526" class="rd"/>
<g class="oc"><circle cx="474" cy="1380" r="4"/><circle cx="463" cy="1405" r="4"/><circle cx="482" cy="1408" r="4"/><circle cx="468" cy="1437" r="4"/><circle cx="482" cy="1460" r="4"/><circle cx="466" cy="1476" r="4"/></g>
<g class="or"><rect x="514" y="1434" width="7" height="7"/><rect x="506" y="1452" width="7" height="7"/><rect x="525" y="1455" width="7" height="7"/><rect x="512" y="1464" width="7" height="7"/><rect x="508" y="1474" width="7" height="7"/><rect x="526" y="1478" width="7" height="7"/></g>
<text x="494" y="1360" class="p" text-anchor="middle">p=0.03</text>
<path d="M472 1371V1364H512V1371" class="ax" stroke-width="1.5"/>
<g class="t" text-anchor="middle" font-size="18"><text x="472" y="1532" font-size="18">Veh</text><text x="520" y="1532" font-size="18">TBC</text></g>

<!-- ============ l ============ -->
<text x="567" y="1306" class="L">l</text>
<text x="737" y="1308" class="l" text-anchor="middle">ITT</text>
<text transform="translate(598,1420) rotate(-90)" class="l" text-anchor="middle">Blood glucose(% basal)</text>
<g class="t" text-anchor="end"><text x="641" y="1519">0</text><text x="641" y="1457">50</text><text x="641" y="1396">100</text><text x="641" y="1334">150</text></g>
<path d="M644 1513H650M644 1451H650M644 1390H650M644 1328H650" class="ax"/>
<path d="M650 1328V1513H870" class="ax"/>
<path d="M650 1513v6M704 1513v6M758 1513v6M812 1513v6M866 1513v6" class="ax"/>
<g class="t" text-anchor="middle"><text x="650" y="1539">0</text><text x="704" y="1539">30</text><text x="758" y="1539">60</text><text x="812" y="1539">90</text><text x="866" y="1539">120</text></g>
<text x="757" y="1560" class="l" text-anchor="middle">Time (min)</text>
<polyline points="650,1390 677,1398 704,1429 758,1445 812,1437 866,1432" fill="none" stroke="#000" stroke-width="2.5"/>
<polyline points="650,1390 677,1424 704,1444 758,1455 812,1455 866,1451" fill="none" stroke="#f20000" stroke-width="2.5"/>
<path d="M677 1398v-8M704 1429v-8M758 1445v-8M812 1437v-8M866 1432v-8M758 1455v5M866 1451v5" stroke="#444" stroke-width="2"/>
<g fill="#000"><circle cx="650" cy="1390" r="4"/><circle cx="677" cy="1398" r="4"/><circle cx="704" cy="1429" r="4"/><circle cx="758" cy="1445" r="4"/><circle cx="812" cy="1437" r="4"/><circle cx="866" cy="1432" r="4"/></g>
<g fill="#f20000"><circle cx="677" cy="1424" r="4"/><circle cx="704" cy="1444" r="4"/><circle cx="758" cy="1455" r="4"/><circle cx="812" cy="1455" r="4"/><circle cx="866" cy="1451" r="4"/></g>
<text x="694" y="1385" class="p" font-size="15" text-anchor="middle">p=0.01</text>
<text x="812" y="1422" class="p" font-size="15" text-anchor="middle">p=0.05</text>

<!-- l AUC -->
<text transform="translate(925,1430) rotate(-90)" class="l" text-anchor="middle">(ITT, areas undercurve)</text>
<g class="t" text-anchor="end"><text x="975" y="1519">0</text><text x="975" y="1485">200</text><text x="975" y="1451">400</text><text x="975" y="1417">600</text><text x="975" y="1382">800</text><text x="975" y="1348">1000</text></g>
<path d="M977 1513H983M977 1479H983M977 1445H983M977 1411H983M977 1376H983M977 1342H983" class="ax"/>
<path d="M983 1342V1513H1068" class="ax"/>
<rect x="987" y="1397" width="32" height="116" class="bk"/><path d="M1003 1397V1385M997 1385H1009" class="bk"/>
<rect x="1031" y="1421" width="32" height="92" class="rd"/><path d="M1047 1421V1414M1041 1414H1053" class="rd"/>
<g class="oc"><circle cx="993" cy="1370" r="4"/><circle cx="1012" cy="1366" r="4"/><circle cx="1003" cy="1380" r="4"/><circle cx="993" cy="1402" r="4"/><circle cx="1012" cy="1398" r="4"/><circle cx="997" cy="1418" r="4"/><circle cx="1010" cy="1420" r="4"/></g>
<g class="or"><rect x="1035" y="1413" width="7" height="7"/><rect x="1048" y="1413" width="7" height="7"/><rect x="1052" y="1419" width="7" height="7"/><rect x="1037" y="1424" width="7" height="7"/><rect x="1044" y="1437" width="7" height="7"/></g>
<text x="1025" y="1350" class="p" text-anchor="middle">p=0.04</text>
<path d="M1003 1360V1353H1047V1360" class="ax" stroke-width="1.5"/>
<g class="t" text-anchor="middle"><text x="1002" y="1531" font-size="18">Veh</text><text x="1048" y="1531" font-size="18">TBC</text></g>
</svg>
</body></html>
